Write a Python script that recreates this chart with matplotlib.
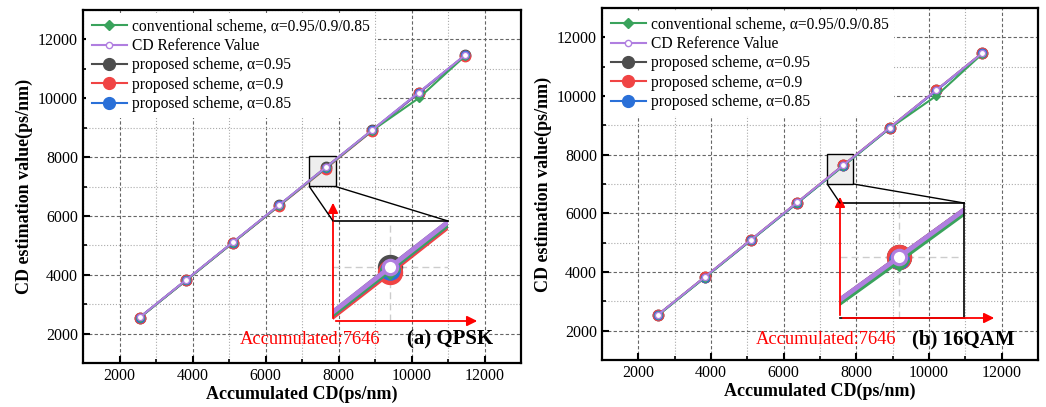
import numpy as np
import matplotlib; matplotlib.use('Agg')
import matplotlib.pyplot as plt
from matplotlib.lines import Line2D
from matplotlib.patches import Rectangle, ConnectionPatch, FancyArrowPatch

plt.rcParams['font.family'] = ['Liberation Serif', 'DejaVu Serif']

# Data
acc_cd = [2548, 3822, 5097, 6371, 7646, 8920, 10194, 11469]
ref_val = [2548, 3822, 5097, 6371, 7646, 8920, 10194, 11469]

conv_a = [2535, 3805, 5080, 6352, 7628, 8900, 10000, 11440]
p95_a = [2545, 3815, 5090, 6362, 7646, 8912, 10180, 11458]
p90_a = [2540, 3808, 5083, 6340, 7605, 8888, 10172, 11450]
p85_a = [2542, 3812, 5088, 6355, 7625, 8905, 10178, 11455]

conv_b = [2530, 3800, 5078, 6352, 7618, 8900, 10000, 11440]
p95_b = [2548, 3820, 5095, 6366, 7646, 8918, 10190, 11465]
p90_b = [2546, 3818, 5093, 6364, 7644, 8916, 10188, 11463]
p85_b = [2540, 3808, 5082, 6345, 7628, 8902, 10180, 11455]

panels = ['(a) QPSK', '(b) 16QAM']
zoom_label = 'Accumulated:7646'
labels = ['conventional scheme, α=0.95/0.9/0.85', 'CD Reference Value',
          'proposed scheme, α=0.95', 'proposed scheme, α=0.9',
          'proposed scheme, α=0.85']

C_GREEN = '#3aa35c'
C_PURPLE = '#b07ee0'
C_GRAY = '#4d4d4d'
C_RED = '#f04444'
C_BLUE = '#2a70d8'

fig = plt.figure(figsize=(10.46, 4.07), dpi=100)
W, H = 1046, 407


def px_axes(l, t, r, b):
    return fig.add_axes([l / W, 1 - b / H, (r - l) / W, (b - t) / H])


def draw_series(ax, conv, p95, p90, p85, big=False):
    k = 2.3 if big else 1.0
    lw = 1.5 * k
    ax.plot(acc_cd, p95, '-o', color=C_GRAY, lw=lw, ms=7.5 * k, zorder=2)
    ax.plot(acc_cd, p90, '-o', color=C_RED, lw=lw, ms=7.5 * k, zorder=2.1)
    ax.plot(acc_cd, p85, '-o', color=C_BLUE, lw=lw, ms=6 * k, zorder=2.2)
    ax.plot(acc_cd, conv, '-D', color=C_GREEN, lw=lw, ms=4.5 * k, zorder=2.3)
    ax.plot(acc_cd, ref_val, '-o', color=C_PURPLE, lw=lw, ms=4.5 * k,
            mfc='white', mec=C_PURPLE, mew=1.0 * k, zorder=2.4)


def setup_main(ax):
    ax.set_xlim(1000, 13000)
    ax.set_ylim(1000, 13000)
    ax.set_xticks(np.arange(2000, 12001, 2000))
    ax.set_yticks(np.arange(2000, 12001, 2000))
    ax.set_xticks(np.arange(1000, 13001, 1000), minor=True)
    ax.set_yticks(np.arange(1000, 13001, 1000), minor=True)
    ax.tick_params(which='major', direction='in', length=5, width=1.5, labelsize=11.5)
    ax.tick_params(which='minor', direction='in', length=3, width=1.2)
    ax.grid(which='major', ls=(0, (3, 2)), color='#666666', lw=0.8)
    ax.grid(which='minor', ls=':', color='#aaaaaa', lw=0.8)
    ax.set_axisbelow(True)
    for s in ax.spines.values():
        s.set_linewidth(1.6)
    ax.set_xlabel('Accumulated CD(ps/nm)', fontsize=13, fontweight='bold', labelpad=1)
    ax.set_ylabel('CD estimation value(ps/nm)', fontsize=13, fontweight='bold', labelpad=4)

    handles = [
        Line2D([], [], color=C_GREEN, marker='D', ms=5, lw=1.5),
        Line2D([], [], color=C_PURPLE, marker='o', ms=4.5, mfc='white', lw=1.5),
        Line2D([], [], color=C_GRAY, marker='o', ms=8.5, lw=1.5),
        Line2D([], [], color=C_RED, marker='o', ms=8.5, lw=1.5),
        Line2D([], [], color=C_BLUE, marker='o', ms=8.5, lw=1.5),
    ]
    leg = ax.legend(handles, labels, loc='upper left', fontsize=11.2,
                    frameon=True, framealpha=1, edgecolor='none',
                    borderaxespad=0.2, borderpad=0.35, handlelength=2.3,
                    handletextpad=0.3, labelspacing=0.22, fancybox=False)
    leg.set_zorder(5)


boxes = [
    dict(main=(83, 10, 521, 363), inset=(333, 221, 448, 321),
         xlim=(7296, 7996), ylim=(7226, 8004), vtip=200, htip=480,
         full=False, tx=240, ptx=407, ty=339,
         data=(conv_a, p95_a, p90_a, p85_a)),
    dict(main=(602, 8, 1038, 360), inset=(840, 203, 964, 318),
         xlim=(7313, 8013), ylim=(7171, 8068), vtip=194, htip=997,
         full=True, tx=756, ptx=912, ty=339,
         data=(conv_b, p95_b, p90_b, p85_b)),
]

for i, b in enumerate(boxes):
    ax = px_axes(*b['main'])
    setup_main(ax)
    draw_series(ax, *b['data'])

    # zoom box in main axes
    ax.add_patch(Rectangle((7200, 7000), 720, 1020, facecolor='#eeeeee',
                           edgecolor='black', lw=1.0, zorder=1.5))

    l, t, r, btm = b['inset']
    axi = px_axes(l, t, r, btm)
    axi.set_facecolor('none')
    draw_series(axi, *b['data'], big=True)
    axi.set_xlim(*b['xlim'])
    axi.set_ylim(*b['ylim'])
    axi.set_xticks([7646])
    axi.set_yticks([7646])
    axi.tick_params(length=0, labelbottom=False, labelleft=False)
    axi.grid(True, ls=(0, (5, 3)), color='#cccccc', lw=1.0)
    axi.set_axisbelow(True)
    for s in axi.spines.values():
        s.set_linewidth(1.2)
        s.set_color('black')
    axi.spines['left'].set_visible(False)
    if not b['full']:
        axi.spines['right'].set_visible(False)
        axi.spines['bottom'].set_visible(False)

    # connector lines
    for xy_main, xy_in in [((7200, 7000), (0, 1)), ((7920, 7000), (1, 1))]:
        con = ConnectionPatch(xyA=xy_main, coordsA=ax.transData,
                              xyB=xy_in, coordsB=axi.transAxes,
                              color='black', lw=1.0, zorder=3)
        fig.add_artist(con)

    # red arrows
    x0, y0 = l / W, 1 - btm / H
    fig.add_artist(FancyArrowPatch(
        (x0, y0), (x0, 1 - b['vtip'] / H), transform=fig.transFigure,
        arrowstyle='-|>,head_length=6,head_width=3', color='red', lw=1.3))
    fig.add_artist(FancyArrowPatch(
        (x0, y0), (b['htip'] / W, y0), transform=fig.transFigure,
        arrowstyle='-|>,head_length=6,head_width=3', color='red', lw=1.3))

    fig.text(b['tx'] / W, 1 - b['ty'] / H, zoom_label, color='red',
             fontsize=13.3, va='center', ha='left')
    fig.text(b['ptx'] / W, 1 - b['ty'] / H, panels[i], color='black',
             fontsize=15, fontweight='bold', va='center', ha='left')

fig.savefig('out.png', dpi=100)
plt.close(fig)
